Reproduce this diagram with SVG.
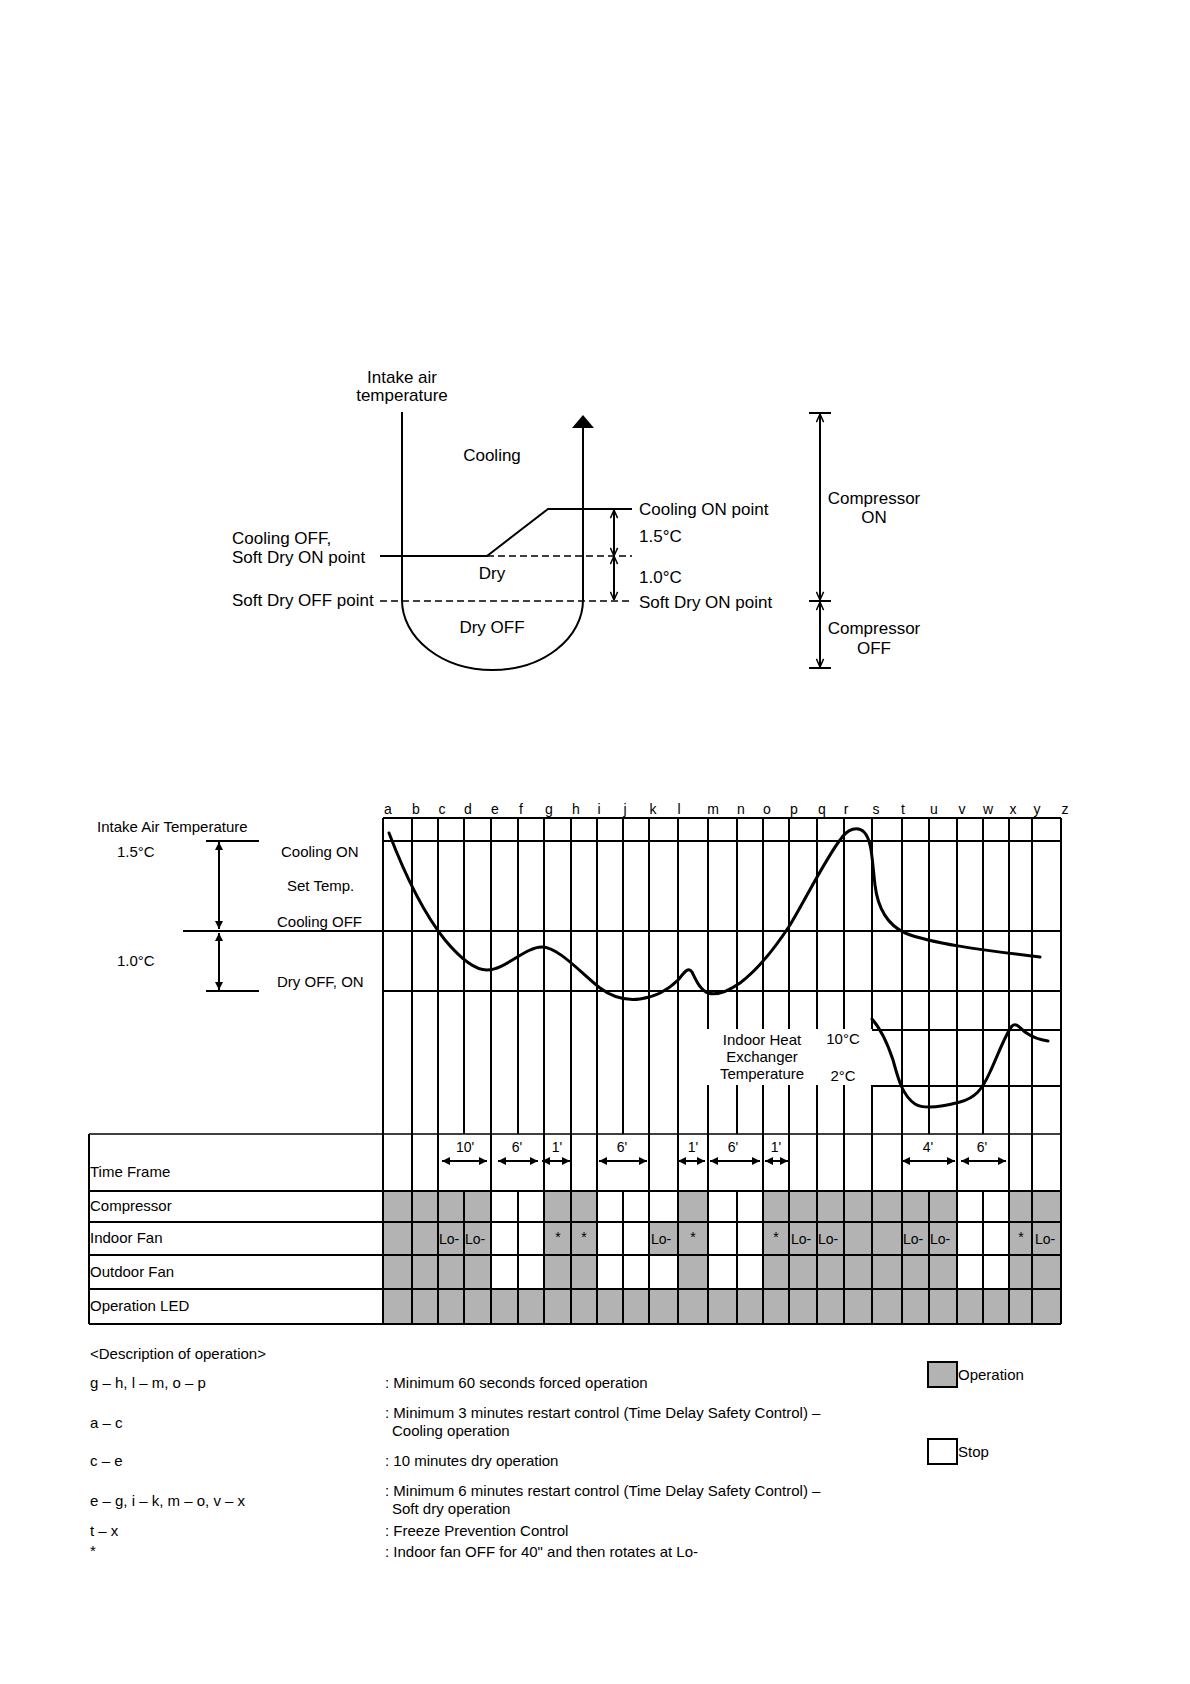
<svg xmlns="http://www.w3.org/2000/svg" width="1190" height="1684" viewBox="0 0 1190 1684">
<style>
text{font-family:"Liberation Sans",Arial,sans-serif;fill:#000}
.t17{font-size:17px}
.t15{font-size:15px}
.t14{font-size:14px}
.mid{text-anchor:middle}
.ln{stroke:#000;stroke-width:2;fill:none}
.thin{stroke:#000;stroke-width:1.5;fill:none}
.dash{stroke:#000;stroke-width:1.5;fill:none;stroke-dasharray:7 4}
.crv{stroke:#000;stroke-width:3;fill:none;stroke-linecap:round;stroke-linejoin:round}
.op{fill:#b3b3b3;stroke:none}
</style>
<defs>
<marker id="chev" viewBox="0 0 10 10" refX="10" refY="5" markerWidth="9" markerHeight="9" markerUnits="userSpaceOnUse" orient="auto-start-reverse"><path d="M1,1 L10,5 L1,9" fill="none" stroke="#000" stroke-width="1.6"/></marker>
<marker id="tri" viewBox="0 0 10 10" refX="10" refY="5" markerWidth="8" markerHeight="8" markerUnits="userSpaceOnUse" orient="auto-start-reverse"><path d="M0,0 L10,5 L0,10 z" fill="#000"/></marker>
<marker id="tri2" viewBox="0 0 10 10" refX="10" refY="5" markerWidth="9" markerHeight="8" markerUnits="userSpaceOnUse" orient="auto-start-reverse"><path d="M0,0 L10,5 L0,10 z" fill="#000"/></marker>
</defs>
<rect width="1190" height="1684" fill="#fff"/>

<!-- ===== Top concept diagram ===== -->
<g id="concept">
  <text class="t17 mid" x="402" y="383">Intake air</text>
  <text class="t17 mid" x="402" y="401">temperature</text>
  <path class="ln" d="M402,412 V600 A90.5,70 0 0 0 583,600 V427"/>
  <polygon points="583,415 572,428 594,428" fill="#000"/>
  <text class="t17 mid" x="492" y="461">Cooling</text>
  <text class="t17 mid" x="492" y="579">Dry</text>
  <text class="t17 mid" x="492" y="633">Dry OFF</text>
  <path class="ln" d="M380,556 H487 L548,509 H632"/>
  <path class="dash" d="M487,556 H632"/>
  <path class="dash" d="M380,601 H632"/>
  <text class="t17" x="232" y="544">Cooling OFF,</text>
  <text class="t17" x="232" y="563">Soft Dry ON point</text>
  <text class="t17" x="232" y="606">Soft Dry OFF point</text>
  <path class="ln" d="M614,510 V556" marker-start="url(#chev)" marker-end="url(#chev)"/>
  <path class="ln" d="M614,556 V600" marker-start="url(#chev)" marker-end="url(#chev)"/>
  <text class="t17" x="639" y="515">Cooling ON point</text>
  <text class="t17" x="639" y="542">1.5°C</text>
  <text class="t17" x="639" y="583">1.0°C</text>
  <text class="t17" x="639" y="608">Soft Dry ON point</text>
</g>
<g id="compressor-range">
  <path class="ln" d="M809,413 H831 M809,601 H831 M809,668 H831"/>
  <path class="ln" d="M820,414 V600" marker-start="url(#chev)" marker-end="url(#chev)"/>
  <path class="ln" d="M820,602 V667" marker-start="url(#chev)" marker-end="url(#chev)"/>
  <text class="t17 mid" x="874" y="504">Compressor</text>
  <text class="t17 mid" x="874" y="523">ON</text>
  <text class="t17 mid" x="874" y="634">Compressor</text>
  <text class="t17 mid" x="874" y="654">OFF</text>
</g>

<!-- ===== Timing chart ===== -->
<g id="chart-fills">
  <rect class="op" x="383" y="1191" width="108" height="31"/>
  <rect class="op" x="544" y="1191" width="53" height="31"/>
  <rect class="op" x="678" y="1191" width="30" height="31"/>
  <rect class="op" x="763" y="1191" width="194" height="31"/>
  <rect class="op" x="1009" y="1191" width="52" height="31"/>
  <rect class="op" x="383" y="1222" width="108" height="33"/>
  <rect class="op" x="544" y="1222" width="53" height="33"/>
  <rect class="op" x="649" y="1222" width="59" height="33"/>
  <rect class="op" x="763" y="1222" width="194" height="33"/>
  <rect class="op" x="1009" y="1222" width="52" height="33"/>
  <rect class="op" x="383" y="1255" width="108" height="34"/>
  <rect class="op" x="544" y="1255" width="53" height="34"/>
  <rect class="op" x="678" y="1255" width="30" height="34"/>
  <rect class="op" x="763" y="1255" width="194" height="34"/>
  <rect class="op" x="1009" y="1255" width="52" height="34"/>
  <rect class="op" x="383" y="1289" width="678" height="35"/>
</g>
<g id="chart-grid">
  <path class="ln" d="M383,818 H1061 M383,841 H1061 M206,841 H259 M183,931 H1061 M383,991 H1061 M206,991 H259 M872,1030 H1061 M872,1086 H1061 M89,1191 H1061 M89,1222 H1061 M89,1255 H1061 M89,1289 H1061 M89,1324 H1061 M89,1134 V1324"/>
  <path class="thin" d="M89,1134 H1061"/>
  <path class="ln" d="M383,818 V1324 M412,818 V1324 M438,818 V1324 M491,818 V1324 M544,818 V1324 M571,818 V1324 M597,818 V1324 M649,818 V1324 M678,818 V1324 M902,818 V1324 M957,818 V1324 M1009,818 V1324 M1032,818 V1324 M1061,818 V1324"/>
  <path class="ln" d="M708,818 V1029 M708,1085 V1324 M763,818 V1029 M763,1085 V1324 M789,818 V1029 M789,1085 V1324 M817,818 V1029 M817,1085 V1324 M844,818 V1029 M844,1085 V1324 M872,818 V1029 M872,1085 V1324"/>
  <path class="ln" d="M737,818 V1029 M737,1085 V1134 M737,1191 V1324"/>
  <path class="ln" d="M464,818 V1134 M464,1191 V1324 M518,818 V1134 M518,1191 V1324 M623,818 V1134 M623,1191 V1324 M929,818 V1134 M929,1191 V1324 M983,818 V1134 M983,1191 V1324"/>
</g>
<g id="chart-letters" class="t14">
  <text class="t14 mid" x="388" y="814">a</text>
  <text class="t14 mid" x="416" y="814">b</text>
  <text class="t14 mid" x="442" y="814">c</text>
  <text class="t14 mid" x="468" y="814">d</text>
  <text class="t14 mid" x="495" y="814">e</text>
  <text class="t14 mid" x="521" y="814">f</text>
  <text class="t14 mid" x="549" y="814">g</text>
  <text class="t14 mid" x="576" y="814">h</text>
  <text class="t14 mid" x="599" y="814">i</text>
  <text class="t14 mid" x="625" y="814">j</text>
  <text class="t14 mid" x="653" y="814">k</text>
  <text class="t14 mid" x="679" y="814">l</text>
  <text class="t14 mid" x="713" y="814">m</text>
  <text class="t14 mid" x="741" y="814">n</text>
  <text class="t14 mid" x="767" y="814">o</text>
  <text class="t14 mid" x="794" y="814">p</text>
  <text class="t14 mid" x="822" y="814">q</text>
  <text class="t14 mid" x="846" y="814">r</text>
  <text class="t14 mid" x="876" y="814">s</text>
  <text class="t14 mid" x="903" y="814">t</text>
  <text class="t14 mid" x="934" y="814">u</text>
  <text class="t14 mid" x="962" y="814">v</text>
  <text class="t14 mid" x="988" y="814">w</text>
  <text class="t14 mid" x="1013" y="814">x</text>
  <text class="t14 mid" x="1037" y="814">y</text>
  <text class="t14 mid" x="1065" y="814">z</text>
</g>
<g id="chart-axis">
  <text class="t15" x="97" y="832">Intake Air Temperature</text>
  <text class="t15" x="117" y="857">1.5°C</text>
  <text class="t15" x="117" y="966">1.0°C</text>
  <text class="t15" x="281" y="857">Cooling ON</text>
  <text class="t15" x="287" y="891">Set Temp.</text>
  <text class="t15" x="277" y="927">Cooling OFF</text>
  <text class="t15" x="277" y="987">Dry OFF, ON</text>
  <path class="ln" d="M219,842 V929" marker-start="url(#tri)" marker-end="url(#tri)"/>
  <path class="ln" d="M219,933 V990" marker-start="url(#tri)" marker-end="url(#tri)"/>
</g>
<g id="curves">
  <path class="crv" d="M389,833 C405,875 425,915 445,940 C460,958 475,970 487,970 C505,970 525,947 542,947 C558,947 580,972 600,988 C612,997 625,1001 640,999 C655,997 668,990 678,980 C684,973 688,966 692,972 C696,980 700,990 708,993 C718,996 730,990 740,983 C760,968 775,948 790,925 C805,900 825,860 840,840 C848,828 858,826 864,832 C872,840 872,860 875,885 C878,910 888,925 905,933 C930,943 980,950 1040,957"/>
  <path class="crv" d="M872,1019 C880,1028 888,1045 893,1060 C898,1078 902,1095 915,1104 C925,1110 945,1106 960,1102 C975,1098 982,1090 990,1072 C998,1055 1005,1035 1012,1026 C1016,1022 1020,1028 1025,1032 C1032,1037 1040,1040 1048,1041"/>
  <text class="t15 mid" x="762" y="1045">Indoor Heat</text>
  <text class="t15 mid" x="762" y="1062">Exchanger</text>
  <text class="t15 mid" x="762" y="1079">Temperature</text>
  <text class="t15 mid" x="843" y="1044">10°C</text>
  <text class="t15 mid" x="843" y="1081">2°C</text>
</g>
<g id="time-frame">
  <g class="t14">
    <text class="t14 mid" x="465" y="1152">10'</text>
    <text class="t14 mid" x="517" y="1152">6'</text>
    <text class="t14 mid" x="557" y="1152">1'</text>
    <text class="t14 mid" x="622" y="1152">6'</text>
    <text class="t14 mid" x="693" y="1152">1'</text>
    <text class="t14 mid" x="733" y="1152">6'</text>
    <text class="t14 mid" x="776" y="1152">1'</text>
    <text class="t14 mid" x="928" y="1152">4'</text>
    <text class="t14 mid" x="982" y="1152">6'</text>
  </g>
  <path class="ln" stroke-width="2.5" d="M442,1161 H487" marker-start="url(#tri2)" marker-end="url(#tri2)"/>
  <path class="ln" d="M498,1161 H538" marker-start="url(#tri2)" marker-end="url(#tri2)"/>
  <path class="ln" d="M542,1161 H570" marker-start="url(#tri2)" marker-end="url(#tri2)"/>
  <path class="ln" d="M599,1161 H647" marker-start="url(#tri2)" marker-end="url(#tri2)"/>
  <path class="ln" d="M678,1161 H705" marker-start="url(#tri2)" marker-end="url(#tri2)"/>
  <path class="ln" d="M710,1161 H760" marker-start="url(#tri2)" marker-end="url(#tri2)"/>
  <path class="ln" d="M765,1161 H788" marker-start="url(#tri2)" marker-end="url(#tri2)"/>
  <path class="ln" stroke-width="2.5" d="M902,1161 H955" marker-start="url(#tri2)" marker-end="url(#tri2)"/>
  <path class="ln" d="M961,1161 H1006" marker-start="url(#tri2)" marker-end="url(#tri2)"/>
</g>
<g id="row-labels">
  <text class="t15" x="90" y="1177">Time Frame</text>
  <text class="t15" x="90" y="1211">Compressor</text>
  <text class="t15" x="90" y="1243">Indoor Fan</text>
  <text class="t15" x="90" y="1277">Outdoor Fan</text>
  <text class="t15" x="90" y="1311">Operation LED</text>
</g>
<g id="fan-marks">
  <text class="t14" x="439" y="1244">Lo-</text>
  <text class="t14" x="465" y="1244">Lo-</text>
  <text class="t14" x="651" y="1244">Lo-</text>
  <text class="t14" x="791" y="1244">Lo-</text>
  <text class="t14" x="818" y="1244">Lo-</text>
  <text class="t14" x="903" y="1244">Lo-</text>
  <text class="t14" x="930" y="1244">Lo-</text>
  <text class="t14" x="1035" y="1244">Lo-</text>
  <text class="t14 mid" x="558" y="1242">*</text>
  <text class="t14 mid" x="584" y="1242">*</text>
  <text class="t14 mid" x="693" y="1242">*</text>
  <text class="t14 mid" x="776" y="1242">*</text>
  <text class="t14 mid" x="1021" y="1242">*</text>
</g>

<!-- ===== Description ===== -->
<g id="description">
  <text class="t15" x="90" y="1359">&lt;Description of operation&gt;</text>
  <text class="t15" x="90" y="1388">g – h, l – m, o – p</text>
  <text class="t15" x="90" y="1428">a – c</text>
  <text class="t15" x="90" y="1466">c – e</text>
  <text class="t15" x="90" y="1506">e – g, i – k, m – o, v – x</text>
  <text class="t15" x="90" y="1536">t – x</text>
  <text class="t15" x="90" y="1556">*</text>
  <text class="t15" x="385" y="1388">: Minimum 60 seconds forced operation</text>
  <text class="t15" x="385" y="1418">: Minimum 3 minutes restart control (Time Delay Safety Control) –</text>
  <text class="t15" x="392" y="1436">Cooling operation</text>
  <text class="t15" x="385" y="1466">: 10 minutes dry operation</text>
  <text class="t15" x="385" y="1496">: Minimum 6 minutes restart control (Time Delay Safety Control) –</text>
  <text class="t15" x="392" y="1514">Soft dry operation</text>
  <text class="t15" x="385" y="1536">: Freeze Prevention Control</text>
  <text class="t15" x="385" y="1557">: Indoor fan OFF for 40" and then rotates at Lo-</text>
</g>
<g id="legend">
  <rect x="928" y="1362" width="29" height="25" fill="#b3b3b3" stroke="#000" stroke-width="2"/>
  <text class="t15" x="958" y="1380">Operation</text>
  <rect x="928" y="1439" width="29" height="25" fill="#fff" stroke="#000" stroke-width="2"/>
  <text class="t15" x="958" y="1457">Stop</text>
</g>
</svg>
